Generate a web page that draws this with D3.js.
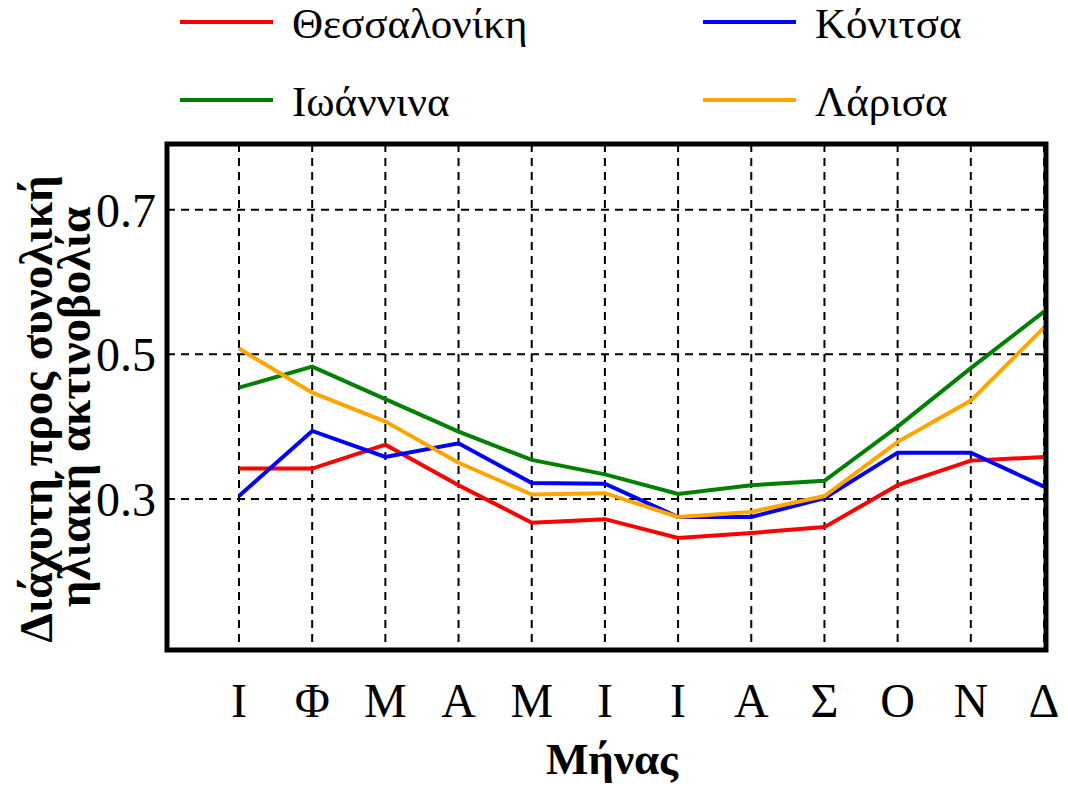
<!DOCTYPE html>
<html>
<head>
<meta charset="utf-8">
<script src="https://cdn.jsdelivr.net/npm/d3@7"></script>
<style>
  body { margin: 0; background: #fff; }
  text { font-family: "Liberation Serif", "Times New Roman", serif; }
</style>
</head>
<body>
<div id="chart"></div>
<script>
// month labels (Greek initials)
var months = ["Ι", "Φ", "Μ", "Α", "Μ", "Ι", "Ι", "Α", "Σ", "Ο", "Ν", "Δ"];
var monthIdx = d3.range(12);

// diffuse / global ratio per city
var thessaloniki = [0.342, 0.342, 0.375, 0.319, 0.267, 0.272, 0.246, 0.253, 0.261, 0.319, 0.353, 0.358];
var konitsa      = [0.304, 0.394, 0.358, 0.377, 0.322, 0.321, 0.275, 0.275, 0.301, 0.364, 0.364, 0.317];
var ioannina     = [0.454, 0.483, 0.438, 0.393, 0.354, 0.334, 0.307, 0.319, 0.325, 0.400, 0.481, 0.559];
var larisa       = [0.508, 0.447, 0.407, 0.350, 0.306, 0.308, 0.275, 0.282, 0.304, 0.379, 0.436, 0.537];

var yTicks = [0.3, 0.5, 0.7];

var series = [
  {name: "Θεσσαλονίκη", values: thessaloniki, color: "#ff0000"},
  {name: "Κόνιτσα", values: konitsa, color: "#0000ff"},
  {name: "Ιωάννινα", values: ioannina, color: "#008000"},
  {name: "Λάρισα", values: larisa, color: "#ffa500"}
];

var svgWidth = 1068, svgHeight = 792;
var frame = {left: 167, top: 144, right: 1046, bottom: 650};

var svg = d3.select("#chart").append("svg")
    .attr("width", svgWidth)
    .attr("height", svgHeight);

// scales
var xScale = d3.scalePoint()
    .domain(monthIdx)
    .range([239, 1044]);

var yScale = d3.scaleLinear()
    .domain([0.091, 0.791])
    .range([frame.bottom, frame.top]);

// grid
var grid = svg.append("g")
    .attr("stroke", "#000")
    .attr("stroke-width", 2)
    .attr("stroke-dasharray", "8,6");

grid.selectAll("line.h")
    .data(yTicks)
    .enter()
    .append("line")
    .attr("x1", frame.left)
    .attr("x2", frame.right)
    .attr("y1", d => yScale(d))
    .attr("y2", d => yScale(d));

grid.selectAll("line.v")
    .data(monthIdx)
    .enter()
    .append("line")
    .attr("x1", d => xScale(d))
    .attr("x2", d => xScale(d))
    .attr("y1", frame.top)
    .attr("y2", frame.bottom);

// lines
var line = d3.line()
    .x((d, i) => xScale(i))
    .y(d => yScale(d));

svg.selectAll("path.series")
    .data(series)
    .enter()
    .append("path")
    .attr("class", "series")
    .attr("d", d => line(d.values))
    .attr("fill", "none")
    .attr("stroke", d => d.color)
    .attr("stroke-width", 4);

// frame
svg.append("rect")
    .attr("x", frame.left)
    .attr("y", frame.top)
    .attr("width", frame.right - frame.left)
    .attr("height", frame.bottom - frame.top)
    .attr("fill", "none")
    .attr("stroke", "#000")
    .attr("stroke-width", 5);

// y tick labels
svg.selectAll("text.ytick")
    .data(yTicks)
    .enter()
    .append("text")
    .attr("x", 156)
    .attr("y", d => yScale(d))
    .attr("dy", "0.35em")
    .attr("text-anchor", "end")
    .attr("font-size", "48px")
    .text(d => d.toFixed(1));

// x tick labels
svg.selectAll("text.xtick")
    .data(monthIdx)
    .enter()
    .append("text")
    .attr("x", d => xScale(d))
    .attr("y", 717)
    .attr("text-anchor", "middle")
    .attr("font-size", "48px")
    .text(d => months[d]);

// axis titles
svg.append("text")
    .attr("x", 612)
    .attr("y", 774)
    .attr("text-anchor", "middle")
    .attr("font-size", "45px")
    .attr("font-weight", "bold")
    .text("Μήνας");

svg.append("text")
    .attr("transform", "translate(52,409) rotate(-90)")
    .attr("text-anchor", "middle")
    .attr("font-size", "47px")
    .attr("font-weight", "bold")
    .text("Διάχυτη προς συνολική");

svg.append("text")
    .attr("transform", "translate(90,407) rotate(-90)")
    .attr("text-anchor", "middle")
    .attr("font-size", "47px")
    .attr("font-weight", "bold")
    .text("ηλιακή ακτινοβολία");

// legend
var legendPos = [[180, 22], [703, 22], [180, 100], [703, 100]];

var legend = svg.selectAll("g.legend")
    .data(series)
    .enter()
    .append("g")
    .attr("transform", (d, i) => `translate(${legendPos[i][0]}, ${legendPos[i][1]})`);

legend.append("line")
    .attr("x1", 0)
    .attr("x2", 93)
    .attr("stroke", d => d.color)
    .attr("stroke-width", 4);

legend.append("text")
    .attr("x", 112)
    .attr("y", 16)
    .attr("font-size", "43px")
    .text(d => d.name);
</script>
</body>
</html>
